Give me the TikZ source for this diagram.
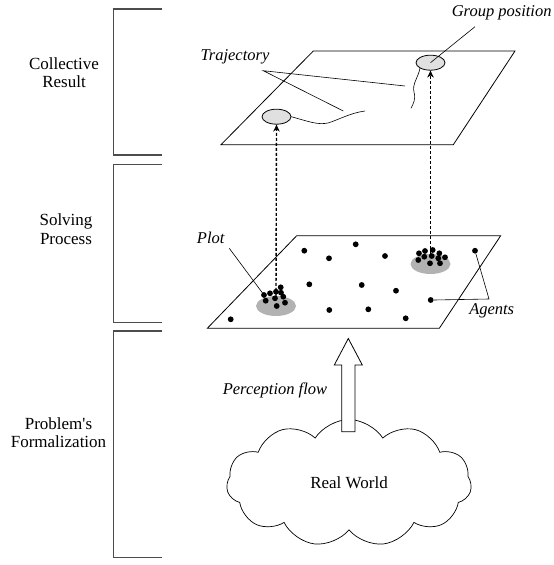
\documentclass[tikz,border=0pt]{standalone}
\usepackage{fontspec}
\setmainfont{Liberation Serif}
\usetikzlibrary{shapes.geometric,shapes.symbols,arrows.meta}

\begin{document}
\begin{tikzpicture}[x=1pt, y=-1pt,
    stage/.style={font=\fontsize{17}{18.5}\selectfont, align=center, inner sep=0pt},
    tag/.style={font=\fontsize{16.5}{18}\selectfont\itshape, inner sep=1pt},
    bracket/.style={draw=black!70, line width=1.4pt},
    plane/.style={draw, line width=0.8pt},
    target/.style={ellipse, draw, fill=black!12, line width=0.8pt, minimum width=29pt, minimum height=15pt, inner sep=0pt},
    plot/.style={ellipse, fill=black!30, minimum width=40pt, minimum height=20pt, inner sep=0pt},
    agent/.style={circle, fill=black, minimum size=5.8pt, inner sep=0pt},
    pointer/.style={draw, line width=0.6pt},
    trail/.style={draw, line width=0.6pt},
    link/.style={draw, densely dashed, line width=1.4pt, -{Stealth[length=7pt,width=6.5pt]}},
    flow/.style={draw, fill=white, line width=0.8pt},
    world/.style={cloud, draw, cloud puffs=11, cloud puff arc=115, aspect=2, line width=0.7pt, minimum width=245pt, minimum height=127pt, font=\fontsize{17}{19}\selectfont}
    ]
    \useasboundingbox (0,0) rectangle (554,565);

    \newcommand{\agentcoords}{
        (304.3,250.7), (355.7,244.3), (329,258.3), (385,256), (475,250.7),
        (309.3,284.3), (361.7,285), (396,290.7), (430.7,300), (329.3,310),
        (368.3,309.3), (405.7,318.3), (230.7,319.3)
    }
    \newcommand{\plotLcoords}{
        (264,295), (270,293.3), (276,291.7), (281,292.7), (280.7,287.3),
        (265.7,300.7), (275,298.3), (283.3,296.7), (276.7,306), (285,302.7)
    }
    \newcommand{\plotRcoords}{
        (419,253.3), (425,251), (432.7,250), (439.3,253.3), (418.3,260),
        (424.3,256.7), (431.7,256), (438.3,258.3), (430,263.3), (440,263.3), (445,257.3)
    }

    % Define brackets
    \foreach \ya/\yb in {9/155, 164.3/322.7, 331/557.3}
        \draw[bracket] (162.3,\ya) -- (113.3,\ya) -- (113.3,\yb) -- (162.3,\yb);
    \node[stage] (collective) at (64,72.5) {Collective\\Result};
    \node[stage] (solving) at (66,229) {Solving\\Process};
    \node[stage] (formal) at (58.5,432.5) {Problem\textquotesingle s\\Formalization};

    % Define planes
    \draw[plane] (313.3,51) -- (515,51) -- (453.3,144.7) -- (221,144.7) -- cycle;
    \draw[plane] (296.7,235.7) -- (500.7,235.7) -- (439.3,328.3) -- (207.3,328.3) -- cycle;

    % Define plots and group positions
    \node[plot] (plotL) at (276,306) {};
    \node[plot] (plotR) at (430.5,264) {};
    \node[target] (goalL) at (276.5,116.7) {};
    \node[target] (goalR) at (430.5,62.7) {};

    % Define links
    \draw[link] (plotL.north) -- (goalL.south);
    \draw[link] (plotR.north) -- (goalR.south);

    % Define labels
    \node[tag] (plotlabel) at (210.7,238.3) {Plot};
    \node[tag] (agentslabel) at (491.7,311) {Agents};
    \node[tag] (trajlabel) at (235,57) {Trajectory};
    \node[tag] (grouplabel) at (501.7,12.7) {Group position};
    \node[tag] (perception) at (275,390.7) {Perception flow};
    \coordinate (plotfoot) at (229.3,248.3);
    \coordinate (agentsfork) at (489,299);
    \coordinate (trajfork) at (263.3,70.7);
    \coordinate (groupfoot) at (475,26.7);

    % Define agents
    \draw[pointer] (plotfoot) -- (264,295);
    \foreach [count = \i] \pos in \plotLcoords {
        \node[agent] (cl\i) at \pos {};
    }
    \foreach [count = \i] \pos in \plotRcoords {
        \node[agent] (cr\i) at \pos {};
    }
    \foreach [count = \i] \pos in \agentcoords {
        \node[agent] (a\i) at \pos {};
    }
    \draw[pointer] (a5) -- (agentsfork) -- (a9.east);

    % Define trajectories
    \coordinate (trailL) at (365,111);
    \coordinate (trailR) at (411,108.3);
    \draw[trail] (goalL.east) .. controls (310,122) and (318,125) .. (328,123)
        .. controls (338,120) and (350,113) .. (trailL);
    \draw[trail] (goalR.south west) .. controls (418,78) and (412,84) .. (414,92)
        .. controls (416,100) and (413,104) .. (trailR);
    \draw[pointer] (405,86) -- (trajfork) -- (343.3,111);
    \draw[pointer] (groupfoot) -- (goalR.center);

    % Define real world and flow
    \node[world] (realworld) at (349,483) {Real World};
    \coordinate (flowtip) at (348.3,338.5);
    \draw[flow] (341.7,431.7) -- (341.7,365) -- (334.3,365) -- (flowtip)
        -- (362.3,365) -- (355,365) -- (355,431.7) -- cycle;
\end{tikzpicture}
\end{document}
